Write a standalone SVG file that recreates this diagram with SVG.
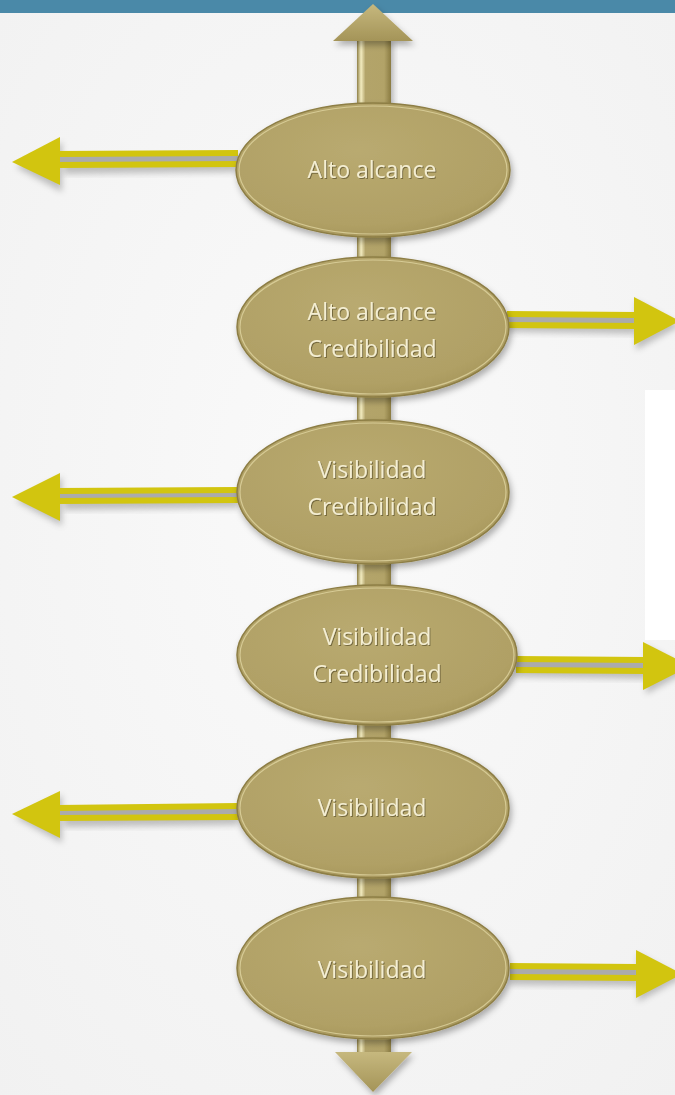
<svg xmlns="http://www.w3.org/2000/svg" width="675" height="1095" viewBox="0 0 675 1095">
  <defs>
    <radialGradient id="bg" cx="0.5" cy="0.45" r="0.75">
      <stop offset="0" stop-color="#fafafa"/>
      <stop offset="1" stop-color="#f1f1f1"/>
    </radialGradient>
    <radialGradient id="gold" cx="0.45" cy="0.35" r="0.7">
      <stop offset="0" stop-color="#b9aa70"/>
      <stop offset="0.8" stop-color="#b0a065"/>
      <stop offset="1" stop-color="#a49459"/>
    </radialGradient>
    <linearGradient id="bar" x1="0" y1="0" x2="1" y2="0">
      <stop offset="0" stop-color="#8e7f45"/>
      <stop offset="0.12" stop-color="#f3ecc0"/>
      <stop offset="0.25" stop-color="#b3a46a"/>
      <stop offset="0.8" stop-color="#b2a368"/>
      <stop offset="1" stop-color="#8a7b42"/>
    </linearGradient>
    <linearGradient id="head" x1="0" y1="0" x2="0" y2="1">
      <stop offset="0" stop-color="#c6b87e"/>
      <stop offset="1" stop-color="#a49458"/>
    </linearGradient>
    <filter id="soft" x="-20%" y="-20%" width="140%" height="140%">
      <feGaussianBlur stdDeviation="3"/>
    </filter>
    <filter id="drop" x="-10%" y="-10%" width="130%" height="140%">
      <feDropShadow dx="2" dy="4" stdDeviation="3" flood-color="#000" flood-opacity="0.3"/>
    </filter>
    <filter id="tshadow">
      <feDropShadow dx="1" dy="1" stdDeviation="0.6" flood-color="#5a4f25" flood-opacity="0.7"/>
    </filter>
  </defs>
  <style>
    .oval { fill: url(#gold); stroke: #8d7e45; stroke-width: 1.5; filter: url(#drop); }
    .rim { fill: none; stroke: #e6dca8; stroke-width: 1.2; opacity: 0.7; }
    .lbl { font-family: "Open Sans", "Liberation Sans", sans-serif; font-size: 23px; fill: #f4eed2; text-anchor: middle; filter: url(#tshadow); }
    .ybar { fill: #d2c50f; }
    .yhead { fill: #d2c50f; }
    .gap { fill: #ababab; }
    .shade { fill: #7a7a7a; opacity: 0.45; filter: url(#soft); }
  </style>

  <!-- background -->
  <rect width="675" height="1095" fill="url(#bg)"/>
  <rect x="645" y="390" width="30" height="250" fill="#ffffff"/>
  <rect width="675" height="13" fill="#4a89a8"/>

  <!-- vertical spine with end arrows -->
  <g id="spine">
    <rect x="357" y="38" width="34" height="1016" fill="url(#bar)" filter="url(#drop)"/>
    <path d="M373 4 L413 41 L333 41 Z" fill="url(#head)" filter="url(#drop)"/>
    <path d="M335 1052 L412 1052 L373 1092 Z" fill="url(#head)" filter="url(#drop)"/>
  </g>

  <!-- side arrows -->
  <g id="connectors">
    <!-- left, row 1 -->
    <g>
      <path class="shade" d="M64 157 L238 154 L238 172 L64 174 Z"/>
      <path class="shade" d="M16 167 L62 142 L62 192 Z"/>
      <path class="gap" d="M58 156 L238 155 L238 162 L58 163 Z"/>
      <path class="ybar" d="M58 151 L238 150 L238 156 L58 157 Z"/>
      <path class="ybar" d="M58 162 L238 161 L238 167 L58 168 Z"/>
      <path class="yhead" d="M12 162 L60 137 L60 185 Z"/>
    </g>
    <!-- right, row 2 -->
    <g>
      <path class="shade" d="M507 316 L636 318 L636 334 L507 332 Z"/>
      <path class="shade" d="M636 301 L680 326 L636 350 Z"/>
      <path class="gap" d="M507 316 L636 317 L636 324 L507 323 Z"/>
      <path class="ybar" d="M507 311 L636 312 L636 318 L507 317 Z"/>
      <path class="ybar" d="M507 322 L636 323 L636 329 L507 328 Z"/>
      <path class="yhead" d="M634 297 L680 321 L634 345 Z"/>
    </g>
    <!-- left, row 3 -->
    <g>
      <path class="shade" d="M64 494 L238 491 L238 508 L64 510 Z"/>
      <path class="shade" d="M16 501 L62 477 L62 526 Z"/>
      <path class="gap" d="M58 493 L238 492 L238 498 L58 499 Z"/>
      <path class="ybar" d="M58 488 L238 487 L238 493 L58 494 Z"/>
      <path class="ybar" d="M58 498 L238 497 L238 503 L58 504 Z"/>
      <path class="yhead" d="M12 497 L60 473 L60 521 Z"/>
    </g>
    <!-- right, row 4 -->
    <g>
      <path class="shade" d="M516 661 L646 663 L646 679 L516 677 Z"/>
      <path class="shade" d="M646 646 L690 670 L646 694 Z"/>
      <path class="gap" d="M516 661 L646 662 L646 669 L516 668 Z"/>
      <path class="ybar" d="M516 656 L646 657 L646 663 L516 662 Z"/>
      <path class="ybar" d="M516 667 L646 668 L646 674 L516 673 Z"/>
      <path class="yhead" d="M643 642 L690 666 L643 690 Z"/>
    </g>
    <!-- left, row 5 -->
    <g>
      <path class="shade" d="M64 811 L238 808 L238 825 L64 827 Z"/>
      <path class="shade" d="M16 818 L62 795 L62 843 Z"/>
      <path class="gap" d="M58 810 L238 808 L238 815 L58 816 Z"/>
      <path class="ybar" d="M58 805 L238 803 L238 809 L58 811 Z"/>
      <path class="ybar" d="M58 815 L238 814 L238 820 L58 821 Z"/>
      <path class="yhead" d="M12 814 L60 791 L60 838 Z"/>
    </g>
    <!-- right, row 6 -->
    <g>
      <path class="shade" d="M510 969 L638 970 L638 986 L510 985 Z"/>
      <path class="shade" d="M638 954 L682 978 L638 1002 Z"/>
      <path class="gap" d="M510 968 L638 969 L638 976 L510 975 Z"/>
      <path class="ybar" d="M510 963 L638 964 L638 970 L510 969 Z"/>
      <path class="ybar" d="M510 974 L638 975 L638 981 L510 980 Z"/>
      <path class="yhead" d="M636 950 L682 974 L636 998 Z"/>
    </g>
  </g>

  <!-- nodes -->
  <g id="node-1">
    <ellipse class="oval" cx="373" cy="170" rx="137" ry="67"/>
    <ellipse class="rim" cx="373" cy="170" rx="134" ry="64"/>
    <text class="lbl" x="372" y="178">Alto alcance</text>
  </g>
  <g id="node-2">
    <ellipse class="oval" cx="373" cy="327" rx="136" ry="70"/>
    <ellipse class="rim" cx="373" cy="327" rx="133" ry="67"/>
    <text class="lbl" x="372" y="320">Alto alcance</text>
    <text class="lbl" x="372" y="357">Credibilidad</text>
  </g>
  <g id="node-3">
    <ellipse class="oval" cx="373" cy="492" rx="136" ry="72"/>
    <ellipse class="rim" cx="373" cy="492" rx="133" ry="69"/>
    <text class="lbl" x="372" y="478">Visibilidad</text>
    <text class="lbl" x="372" y="515">Credibilidad</text>
  </g>
  <g id="node-4">
    <ellipse class="oval" cx="377" cy="655" rx="140" ry="70"/>
    <ellipse class="rim" cx="377" cy="655" rx="137" ry="67"/>
    <text class="lbl" x="377" y="645">Visibilidad</text>
    <text class="lbl" x="377" y="682">Credibilidad</text>
  </g>
  <g id="node-5">
    <ellipse class="oval" cx="373" cy="808" rx="136" ry="70"/>
    <ellipse class="rim" cx="373" cy="808" rx="133" ry="67"/>
    <text class="lbl" x="372" y="816">Visibilidad</text>
  </g>
  <g id="node-6">
    <ellipse class="oval" cx="373" cy="968" rx="136" ry="71"/>
    <ellipse class="rim" cx="373" cy="968" rx="133" ry="68"/>
    <text class="lbl" x="372" y="978">Visibilidad</text>
  </g>
</svg>
